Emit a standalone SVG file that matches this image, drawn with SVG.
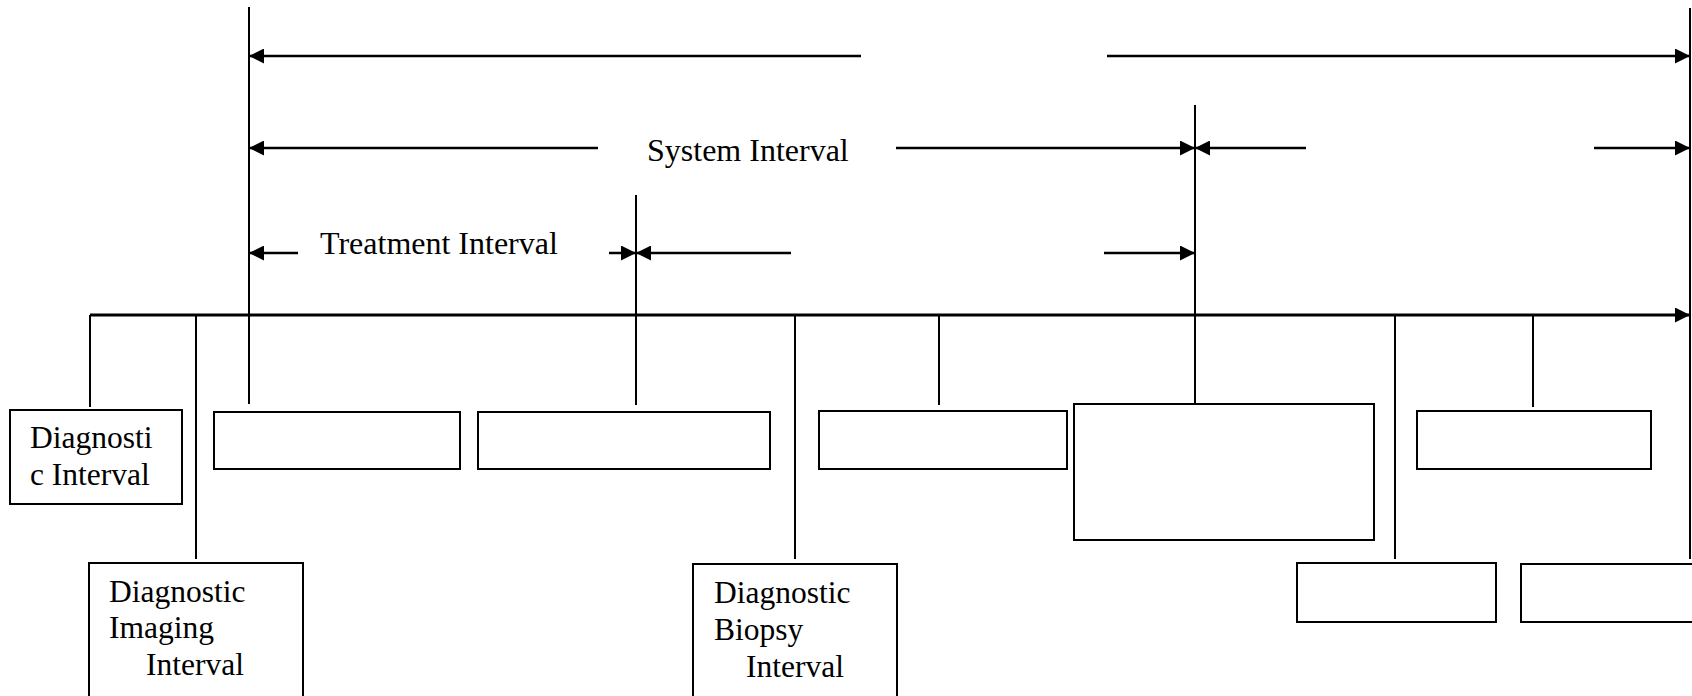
<svg xmlns="http://www.w3.org/2000/svg" width="1692" height="696" viewBox="0 0 1692 696">
<style>
.box{fill:#fff;stroke:#000;stroke-width:2}
.ln{stroke:#000;stroke-width:2;fill:none}
.arr{stroke:#000;stroke-width:2.5;fill:none;marker-end:url(#ah)}
.ax{stroke:#000;stroke-width:3;fill:none;marker-end:url(#ah)}
text{font-family:"Liberation Serif","Times New Roman",serif;font-size:31.5px;fill:#000}
.big{font-size:32px}
</style>
<defs>
<marker id="ah" viewBox="0 0 15 15" refX="15" refY="7.5" markerWidth="15" markerHeight="15" markerUnits="userSpaceOnUse" orient="auto">
<path d="M0,0 L15,7.5 L0,15 Z" fill="#000"/>
</marker>
</defs>
<rect width="1692" height="696" fill="#fff"/>
<g id="connectors">
<line class="ax" x1="90" y1="315" x2="1690" y2="315"/>
<line class="ln" x1="249" y1="7" x2="249" y2="404"/>
<line class="ln" x1="1195" y1="105" x2="1195" y2="404"/>
<line class="ln" x1="636" y1="195" x2="636" y2="405"/>
<line class="ln" x1="1690" y1="8" x2="1690" y2="559"/>
<line class="ln" x1="90" y1="315" x2="90" y2="407"/>
<line class="ln" x1="196" y1="315" x2="196" y2="559"/>
<line class="ln" x1="795" y1="315" x2="795" y2="559"/>
<line class="ln" x1="939" y1="315" x2="939" y2="405"/>
<line class="ln" x1="1395" y1="315" x2="1395" y2="559"/>
<line class="ln" x1="1533" y1="315" x2="1533" y2="407"/>
<line class="arr" x1="861" y1="56" x2="249" y2="56"/>
<line class="arr" x1="1107" y1="56" x2="1690" y2="56"/>
<line class="arr" x1="598" y1="148" x2="249" y2="148"/>
<line class="arr" x1="896" y1="148" x2="1195" y2="148"/>
<line class="arr" x1="1306" y1="148" x2="1195" y2="148"/>
<line class="arr" x1="1594" y1="148" x2="1690" y2="148"/>
<line class="arr" x1="298" y1="253" x2="249" y2="253"/>
<line class="arr" x1="609" y1="253" x2="636" y2="253"/>
<line class="arr" x1="791" y1="253" x2="636" y2="253"/>
<line class="arr" x1="1104" y1="253" x2="1195" y2="253"/>
</g>
<g id="label-system"><text class="big" x="647" y="161">System Interval</text></g>
<g id="label-treatment"><text class="big" x="320" y="254">Treatment Interval</text></g>
<g id="node-diagnostic">
<rect class="box" x="10" y="410" width="172" height="94"/>
<text x="30" y="448">Diagnosti</text>
<text x="30" y="485">c Interval</text>
</g>
<g id="node-imaging">
<rect class="box" x="89" y="563" width="214" height="134"/>
<text x="109" y="602">Diagnostic</text>
<text x="109" y="638">Imaging</text>
<text x="146" y="675">Interval</text>
</g>
<g id="node-b3"><rect class="box" x="214" y="412" width="246" height="57"/></g>
<g id="node-b4"><rect class="box" x="478" y="412" width="292" height="57"/></g>
<g id="node-biopsy">
<rect class="box" x="693" y="564" width="204" height="133"/>
<text x="714" y="603">Diagnostic</text>
<text x="714" y="640">Biopsy</text>
<text x="746" y="677">Interval</text>
</g>
<g id="node-b5"><rect class="box" x="819" y="411" width="248" height="58"/></g>
<g id="node-b6"><rect class="box" x="1074" y="404" width="300" height="136"/></g>
<g id="node-b7"><rect class="box" x="1297" y="563" width="199" height="59"/></g>
<g id="node-b8"><rect class="box" x="1417" y="411" width="234" height="58"/></g>
<g id="node-b9"><rect class="box" x="1521" y="564" width="200" height="58"/></g>
</svg>
